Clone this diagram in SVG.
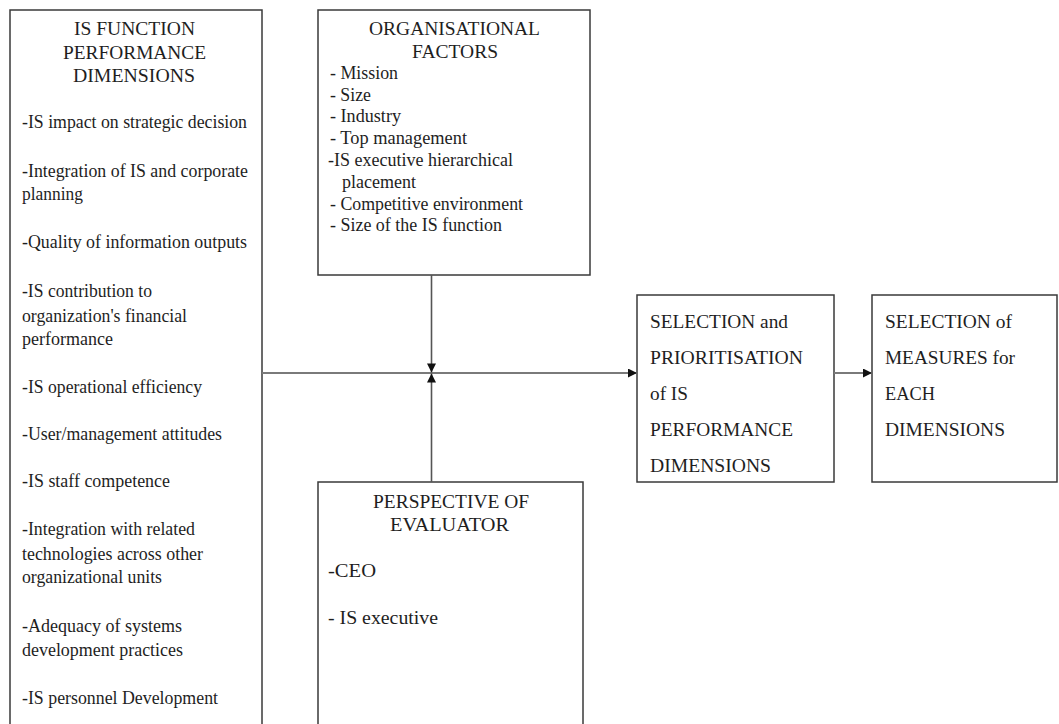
<svg xmlns="http://www.w3.org/2000/svg" width="1059" height="724" viewBox="0 0 1059 724">
<style>
.box{fill:#fff;stroke:#3a3a3a;stroke-width:1.5}
text{font-family:"Liberation Serif","Times New Roman",serif;font-size:18px;fill:#1e1e1e}
.big{font-size:18.5px}
.conn{stroke:#555;stroke-width:1.6;fill:none}
.h{stroke:#7a7a7a;stroke-width:2}
</style>
<defs>
<marker id="ah" viewBox="0 0 10 10" refX="10" refY="5" markerWidth="10" markerHeight="9" markerUnits="userSpaceOnUse" orient="auto">
<path d="M0,0 L10,5 L0,10 z" fill="#111"/>
</marker>
</defs>
<rect width="1059" height="724" fill="#fff"/>
<g id="is-function">
<rect class="box" x="10" y="10" width="252" height="730"/>
<text x="74" y="35" textLength="121" lengthAdjust="spacingAndGlyphs">IS FUNCTION</text>
<text x="63" y="59" textLength="143" lengthAdjust="spacingAndGlyphs">PERFORMANCE</text>
<text x="73" y="82" textLength="122" lengthAdjust="spacingAndGlyphs">DIMENSIONS</text>
<text x="22" y="128" textLength="225" lengthAdjust="spacingAndGlyphs">-IS impact on strategic decision</text>
<text x="22" y="177" textLength="226" lengthAdjust="spacingAndGlyphs">-Integration of IS and corporate</text>
<text x="22" y="200" textLength="61" lengthAdjust="spacingAndGlyphs">planning</text>
<text x="22" y="248" textLength="225" lengthAdjust="spacingAndGlyphs">-Quality of information outputs</text>
<text x="22" y="297" textLength="130" lengthAdjust="spacingAndGlyphs">-IS contribution to</text>
<text x="22" y="322" textLength="165" lengthAdjust="spacingAndGlyphs">organization's financial</text>
<text x="22" y="345" textLength="91" lengthAdjust="spacingAndGlyphs">performance</text>
<text x="22" y="393" textLength="180" lengthAdjust="spacingAndGlyphs">-IS operational efficiency</text>
<text x="22" y="440" textLength="200" lengthAdjust="spacingAndGlyphs">-User/management attitudes</text>
<text x="22" y="487" textLength="148" lengthAdjust="spacingAndGlyphs">-IS staff competence</text>
<text x="22" y="535" textLength="173" lengthAdjust="spacingAndGlyphs">-Integration with related</text>
<text x="22" y="560" textLength="181" lengthAdjust="spacingAndGlyphs">technologies across other</text>
<text x="22" y="583" textLength="140" lengthAdjust="spacingAndGlyphs">organizational units</text>
<text x="22" y="632" textLength="160" lengthAdjust="spacingAndGlyphs">-Adequacy of systems</text>
<text x="22" y="656" textLength="161" lengthAdjust="spacingAndGlyphs">development practices</text>
<text x="22" y="704" textLength="196" lengthAdjust="spacingAndGlyphs">-IS personnel Development</text>
</g>
<g id="organisational-factors">
<rect class="box" x="318" y="10" width="272" height="265"/>
<text x="369" y="35" textLength="171" lengthAdjust="spacingAndGlyphs">ORGANISATIONAL</text>
<text x="412" y="58" textLength="86" lengthAdjust="spacingAndGlyphs">FACTORS</text>
<text x="330" y="79" textLength="68" lengthAdjust="spacingAndGlyphs">- Mission</text>
<text x="330" y="101" textLength="41" lengthAdjust="spacingAndGlyphs">- Size</text>
<text x="330" y="122" textLength="71" lengthAdjust="spacingAndGlyphs">- Industry</text>
<text x="330" y="144" textLength="137" lengthAdjust="spacingAndGlyphs">- Top management</text>
<text x="328" y="166" textLength="185" lengthAdjust="spacingAndGlyphs">-IS executive hierarchical</text>
<text x="342" y="188" textLength="74" lengthAdjust="spacingAndGlyphs">placement</text>
<text x="330" y="210" textLength="193" lengthAdjust="spacingAndGlyphs">- Competitive environment</text>
<text x="330" y="231" textLength="172" lengthAdjust="spacingAndGlyphs">- Size of the IS function</text>
</g>
<g id="perspective-of-evaluator">
<rect class="box" x="318" y="482" width="265" height="260"/>
<text x="373" y="508" textLength="156" lengthAdjust="spacingAndGlyphs">PERSPECTIVE OF</text>
<text x="390" y="531" textLength="119" lengthAdjust="spacingAndGlyphs">EVALUATOR</text>
<text x="328" y="577" textLength="48" lengthAdjust="spacingAndGlyphs">-CEO</text>
<text x="328" y="624" textLength="110" lengthAdjust="spacingAndGlyphs">- IS executive</text>
</g>
<g id="selection-prioritisation">
<rect class="box" x="637" y="295" width="197" height="187"/>
<text class="big" x="650" y="328" textLength="138" lengthAdjust="spacingAndGlyphs">SELECTION and</text>
<text class="big" x="650" y="364" textLength="153" lengthAdjust="spacingAndGlyphs">PRIORITISATION</text>
<text class="big" x="650" y="400" textLength="38" lengthAdjust="spacingAndGlyphs">of IS</text>
<text class="big" x="650" y="436" textLength="143" lengthAdjust="spacingAndGlyphs">PERFORMANCE</text>
<text class="big" x="650" y="472" textLength="121" lengthAdjust="spacingAndGlyphs">DIMENSIONS</text>
</g>
<g id="selection-measures">
<rect class="box" x="872" y="295" width="185" height="187"/>
<text class="big" x="885" y="328" textLength="127" lengthAdjust="spacingAndGlyphs">SELECTION of</text>
<text class="big" x="885" y="364" textLength="130" lengthAdjust="spacingAndGlyphs">MEASURES for</text>
<text class="big" x="885" y="400" textLength="50" lengthAdjust="spacingAndGlyphs">EACH</text>
<text class="big" x="885" y="436" textLength="120" lengthAdjust="spacingAndGlyphs">DIMENSIONS</text>
</g>
<g id="connectors">
<line class="conn h" x1="262" y1="373" x2="637" y2="373" marker-end="url(#ah)"/>
<line class="conn" x1="431.5" y1="275" x2="431.5" y2="372.5" marker-end="url(#ah)"/>
<line class="conn" x1="431.5" y1="482" x2="431.5" y2="373.5" marker-end="url(#ah)"/>
<line class="conn h" x1="834" y1="373" x2="872" y2="373" marker-end="url(#ah)"/>
</g>
</svg>
